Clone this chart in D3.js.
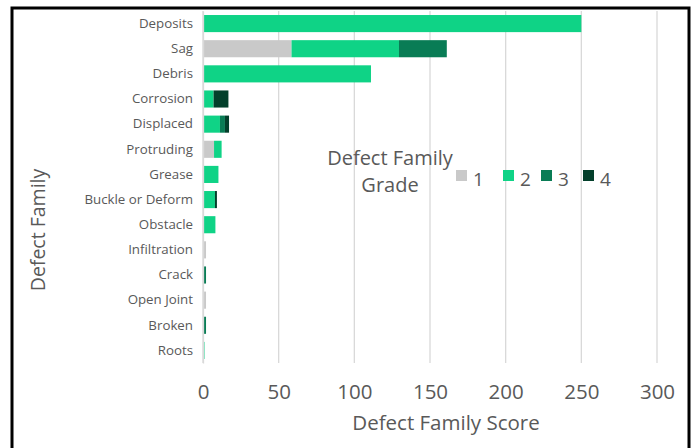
<!DOCTYPE html>
<html>
<head>
<meta charset="utf-8">
<script src="https://cdn.jsdelivr.net/npm/d3@7"></script>
<style>
  html, body { margin: 0; padding: 0; background: #fff; }
  svg { display: block; }
  text { font-family: "Open Sans", "Liberation Sans", sans-serif; fill: #595959; }
</style>
</head>
<body>
<svg id="chart" width="697" height="448"></svg>
<script>
const categories = ["Deposits","Sag","Debris","Corrosion","Displaced","Protruding","Grease","Buckle or Deform","Obstacle","Infiltration","Crack","Open Joint","Broken","Roots"];
const grade1 = [0, 58.5, 0, 0, 0, 7.3, 0, 0, 0, 2, 0, 2, 0, 0];
const grade2 = [250, 71, 111, 7, 11.2, 5, 10.2, 7.9, 8.2, 0, 0, 0, 0, 1];
const grade3 = [0, 31.6, 0, 0, 3.3, 0, 0, 0, 0, 0, 2, 0, 2, 0];
const grade4 = [0, 0, 0, 9.8, 2.7, 0, 0, 1.3, 0, 0, 0, 0, 0, 0];
const gradeKeys = ["1","2","3","4"];
const gradeColors = ["#c9c9c9", "#0fd386", "#097c55", "#033f2b"];
const xTicks = [0, 50, 100, 150, 200, 250, 300];

const svg = d3.select("#chart");
const plot = {left: 203, right: 657, top: 11, bottom: 363};

// border
svg.append("rect").attr("x", 12).attr("y", 8).attr("width", 677).attr("height", 460)
  .attr("fill", "none").attr("stroke", "#000").attr("stroke-width", 3);

const x = d3.scaleLinear().domain([0, 300]).range([plot.left, plot.right]);
const y = d3.scaleBand().domain(categories).range([plot.top, plot.bottom]).paddingInner(0.32).paddingOuter(0.16);

// gridlines
svg.append("g").selectAll("line").data(xTicks).join("line")
  .attr("x1", d => x(d)).attr("x2", d => x(d))
  .attr("y1", plot.top).attr("y2", plot.bottom)
  .attr("stroke", "#d9d9d9").attr("stroke-width", 1.3);

// stacked data
const rows = categories.map((c, i) => ({cat: c, "1": grade1[i], "2": grade2[i], "3": grade3[i], "4": grade4[i]}));
const stack = d3.stack().keys(gradeKeys)(rows);

svg.append("g").selectAll("g").data(stack).join("g")
  .attr("fill", (d, i) => gradeColors[i])
  .selectAll("rect").data(d => d).join("rect")
  .attr("x", d => x(d[0]))
  .attr("width", d => Math.max(0, x(d[1]) - x(d[0])))
  .attr("y", d => y(d.data.cat))
  .attr("height", y.bandwidth());

// x axis labels
const xAxis = d3.axisBottom(x).tickValues(xTicks).tickSize(0).tickPadding(0);
const gx = svg.append("g").attr("transform", `translate(0, 399)`).call(xAxis);
gx.select(".domain").remove();
gx.selectAll("text").attr("font-size", 20.5).attr("fill", "#595959")
  .style("font-family", '"Open Sans", sans-serif').attr("dy", "0");

// y axis
const yAxis = d3.axisLeft(y).tickSize(0).tickPadding(10);
const gy = svg.append("g").attr("transform", `translate(${plot.left}, 0)`).call(yAxis);
gy.select(".domain").attr("stroke", "#d9d9d9").attr("stroke-width", 1.3);
gy.selectAll("text").attr("font-size", 13.3).attr("fill", "#595959")
  .style("font-family", '"Open Sans", sans-serif');

// axis titles
svg.append("text").attr("x", 446).attr("y", 430).attr("text-anchor", "middle")
  .attr("font-size", 20.5).text("Defect Family Score");
svg.append("text").attr("transform", "translate(45, 230) rotate(-90)").attr("text-anchor", "middle")
  .attr("font-size", 19.5).text("Defect Family");

// legend
const lg = svg.append("g");
lg.append("text").attr("x", 390).attr("y", 165).attr("text-anchor", "middle").attr("font-size", 20).text("Defect Family");
lg.append("text").attr("x", 390).attr("y", 192).attr("text-anchor", "middle").attr("font-size", 20).text("Grade");
const legX = [456, 503, 541, 583];
gradeKeys.forEach((k, i) => {
  lg.append("rect").attr("x", legX[i]).attr("y", 170).attr("width", 11).attr("height", 11).attr("fill", gradeColors[i]);
  lg.append("text").attr("x", legX[i] + 17).attr("y", 186).attr("font-size", 19).text(k);
});
</script>
</body>
</html>
